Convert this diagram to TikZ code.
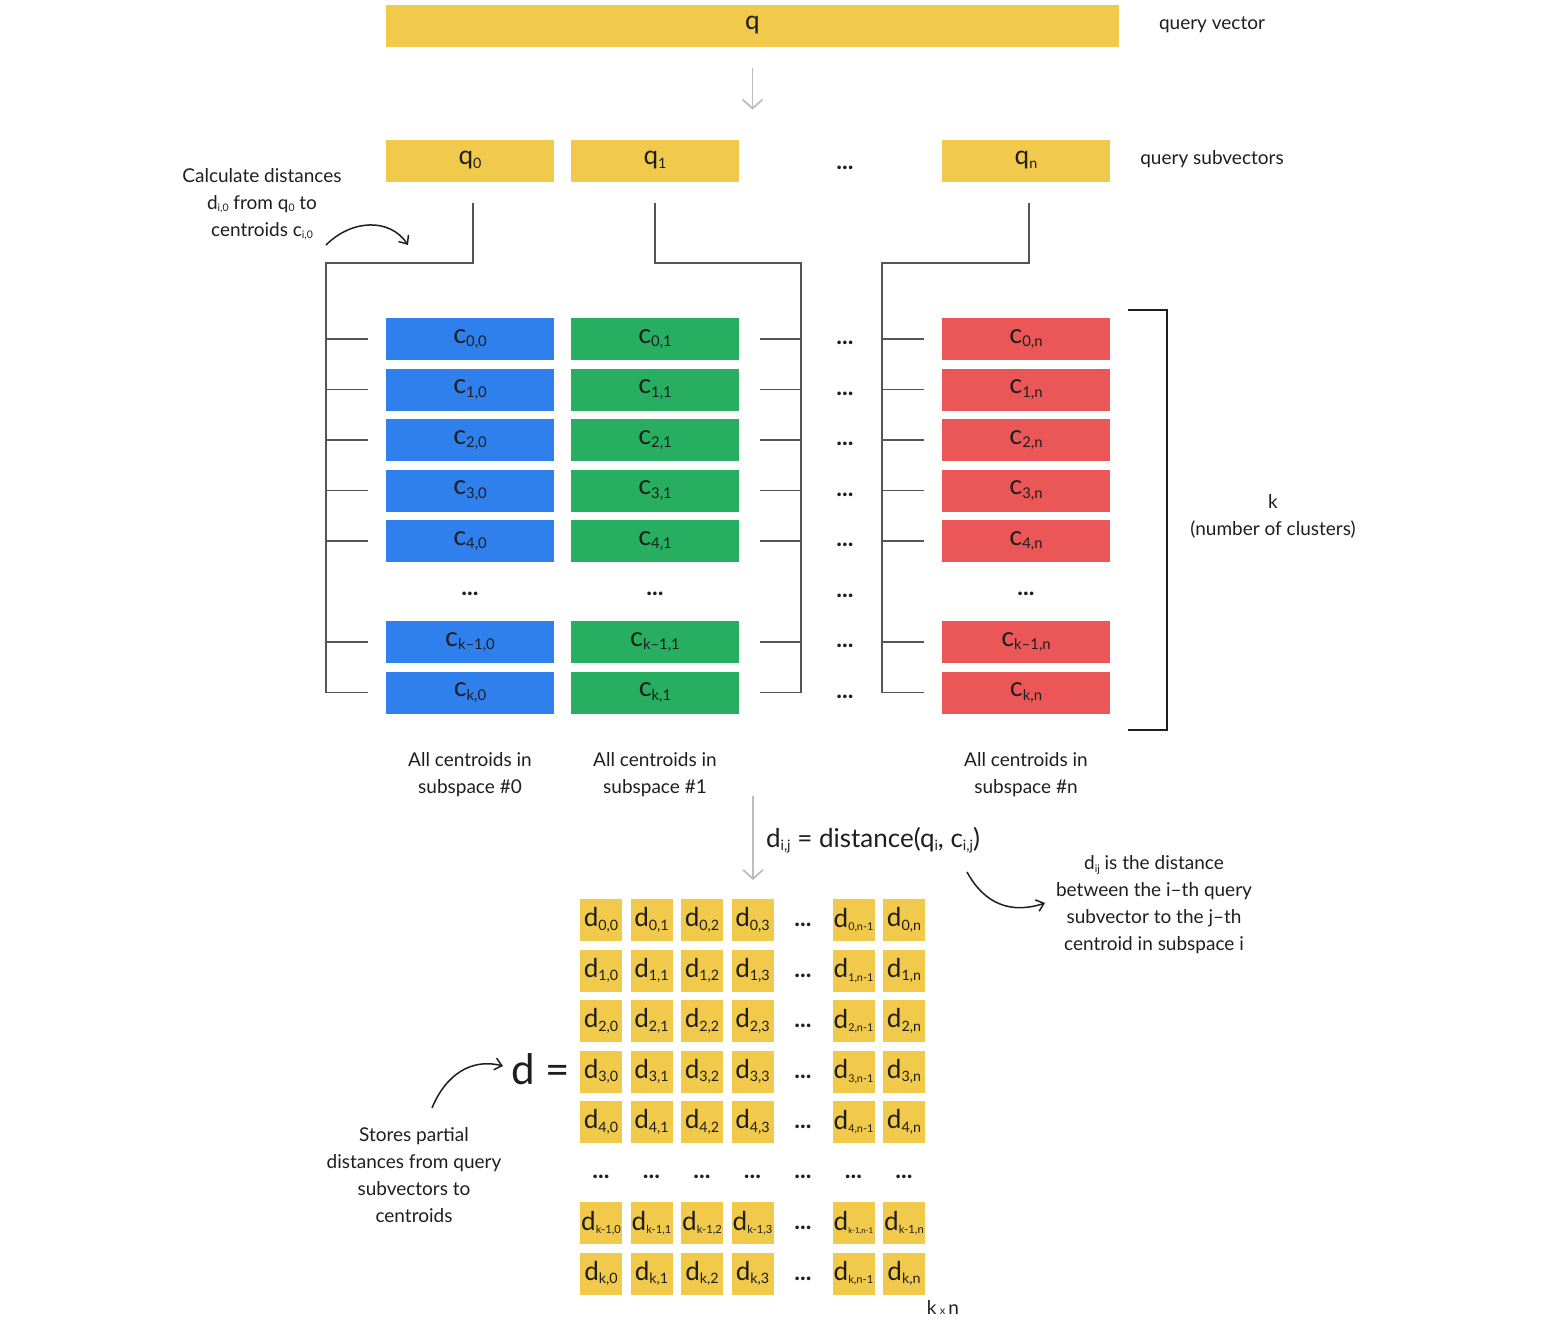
\documentclass[tikz,border=0pt]{standalone}
\usepackage{fontspec}
\setmainfont{Lato}
\usetikzlibrary{arrows.meta,calc}

\definecolor{qyellow}{HTML}{F1C94B}
\definecolor{cblue}{HTML}{2F80ED}
\definecolor{cgreen}{HTML}{27AE60}
\definecolor{cred}{HTML}{EB5757}
\definecolor{ink}{HTML}{1E1E1E}
\definecolor{wiregray}{HTML}{555555}
\definecolor{flowgray}{HTML}{BDBDBD}

% small index set a little below the baseline
\newcommand{\lowidx}[1]{\raisebox{-0.25ex}{\scalebox{0.55}{#1}}}
% shrink a box if it is wider than a given width
\newsavebox{\cellbox}
\newcommand{\fitto}[2]{\sbox{\cellbox}{#2}\ifdim\wd\cellbox>#1\relax\resizebox{#1}{!}{\usebox{\cellbox}}\else\usebox{\cellbox}\fi}
% table entry: full-size d, index squeezed into the rest of the cell
\newcommand{\dentry}[1]{d\raisebox{-0.25ex}{\fitto{25pt}{\scalebox{0.55}{#1}}}}

\begin{document}
\begin{tikzpicture}[x=1pt,y=-1pt,
  every node/.style={text=ink},
  bar/.style={fill=qyellow, minimum height=42pt, inner sep=0pt, font=\fontsize{26}{28}\selectfont},
  cbox/.style={minimum width=168pt, minimum height=42pt, inner sep=0pt, font=\fontsize{27}{28}\selectfont},
  dcell/.style={fill=qyellow, minimum width=42pt, minimum height=42pt, inner sep=0pt, font=\fontsize{26}{30}\selectfont},
  note/.style={align=center, font=\fontsize{19}{27}\selectfont},
  dots/.style={font=\fontsize{24}{24}\selectfont\bfseries, inner sep=0pt},
  wire/.style={draw=wiregray, line width=1.1pt},
  flow/.style={draw=flowgray, line width=1.8pt, -{Straight Barb[length=9pt,width=20pt]}},
  curvy/.style={draw=ink, line width=1.5pt, -{Straight Barb[length=7pt,width=12pt]}}
]
\useasboundingbox (0,0) rectangle (1556,1323);

% query vector and its split
\node[bar, minimum width=733pt] (q) at (752.5,25.5) {q};
\node[note, anchor=center] (qlab) at (1212,25) {query vector};
\draw[flow] ($(q.south)+(0,21)$) coordinate (fa) -- ++(0,42) coordinate (fb);

\node[bar, minimum width=168pt] (q0) at (470,160.5) {q\lowidx{0}};
\node[bar, minimum width=168pt] (q1) at (655,160.5) {q\lowidx{1}};
\node[bar, minimum width=168pt] (qn) at (1026,160.5) {q\lowidx{n}};
\node[dots] (qdots) at (845,168) {...};
\node[note] (qslab) at (1212,159) {query subvectors};

\node[note] (calc) at (262,204) {Calculate distances\\d\lowidx{i,0} from q\lowidx{0} to\\centroids c\lowidx{i,0}};
\coordinate (ca) at (326,245);
\coordinate (cb) at (408,245);
\draw[curvy] (ca) .. controls (352,219) and (390,218) .. (cb);

% centroid columns
\foreach \lab/\y [count=\i] in {0/339,1/389.5,2/440,3/490.5,4/541,k--1/642,k/692.5}{
  \node[cbox, fill=cblue]  (c\i a) at (470,\y)  {c\lowidx{\lab,0}};
  \node[cbox, fill=cgreen] (c\i b) at (655,\y)  {c\lowidx{\lab,1}};
  \node[cbox, fill=cred]   (c\i n) at (1026,\y) {c\lowidx{\lab,n}};
  \node[dots] (mdots\i) at (845,\y+4) {...};
}
\node[dots] (ad) at (470,594) {...};
\node[dots] (bd) at (655,594) {...};
\node[dots] (nd) at (1026,594) {...};
\node[dots] (md) at (845,596) {...};

% rails from each subvector to its centroids
\coordinate (r0) at (326,263);
\coordinate (r1) at (801,263);
\coordinate (rn) at (882,263);
\draw[wire] ($(q0.south)+(3,21)$) |- (r0) -- (r0 |- c7a.west);
\draw[wire] ($(q1.south)+(0,21)$) |- (r1) -- (r1 |- c7b.east);
\draw[wire] ($(qn.south)+(3,21)$) |- (rn) -- (rn |- c7n.west);
\foreach \i in {1,...,7}{
  \draw[wire] (r0 |- c\i a.west) -- ([xshift=-18pt]c\i a.west);
  \draw[wire] ([xshift=21pt]c\i b.east) -- (r1 |- c\i b.east);
  \draw[wire] (rn |- c\i n.west) -- ([xshift=-18pt]c\i n.west);
}

% bracket for k
\coordinate (ka) at (1128,310);
\coordinate (kb) at (1128,730);
\draw[draw=ink, line width=2pt] (ka) -- ++(39,0) -- ++(0,420) -- (kb);
\node[note] (klab) at (1273,516) {k\\(number of clusters)};

\node[note] (s0) at (470,775) {All centroids in\\subspace \#0};
\node[note] (s1) at (655,775) {All centroids in\\subspace \#1};
\node[note] (sn) at (1026,775) {All centroids in\\subspace \#n};

% distance computation
\draw[flow] (753,796) coordinate (ga) -- (753,880) coordinate (gb);
\node[font=\fontsize{26}{28}\selectfont] (form) at (873,840) {d\lowidx{i,j} = distance(q\lowidx{i}, c\lowidx{i,j})};
\coordinate (fa2) at (967,872);
\coordinate (fb2) at (1045,903);
\draw[curvy] (fa2) .. controls (985,905) and (1012,914) .. (fb2);
\node[note] (dnote) at (1154,905) {d\lowidx{ij} is the distance\\between the i--th query\\subvector to the j--th\\centroid in subspace i};

% distance table
\foreach \r/\y [count=\i] in {0/920,1/970.5,2/1021,3/1071.5,4/1122,k-1/1223,k/1273.5}{
  \foreach \c/\x [count=\j] in {0/601,1/651.5,2/702,3/752.5,n-1/853.5,n/904}{
    \node[dcell] (d\i-\j) at (\x,\y) {\dentry{\r,\c}};
  }
  \node[dots] (dd\i) at (803,\y+5) {...};
}
\foreach \x [count=\j] in {601,651.5,702,752.5,803,853.5,904}{
  \node[dots] (vd\j) at (\x,1177) {...};
}
\node[font=\fontsize{42}{44}\selectfont] (deq) at (541,1069) {d =};
\node[font=\fontsize{19}{20}\selectfont] (kxn) at (943,1307) {k\,{\fontsize{11}{12}\selectfont x}\,n};

\node[note] (store) at (414,1175) {Stores partial\\distances from query\\subvectors to\\centroids};
\coordinate (sa) at (432,1108);
\coordinate (sb) at (503,1066);
\draw[curvy] (sa) .. controls (446,1074) and (472,1058) .. (sb);

\end{tikzpicture}
\end{document}
